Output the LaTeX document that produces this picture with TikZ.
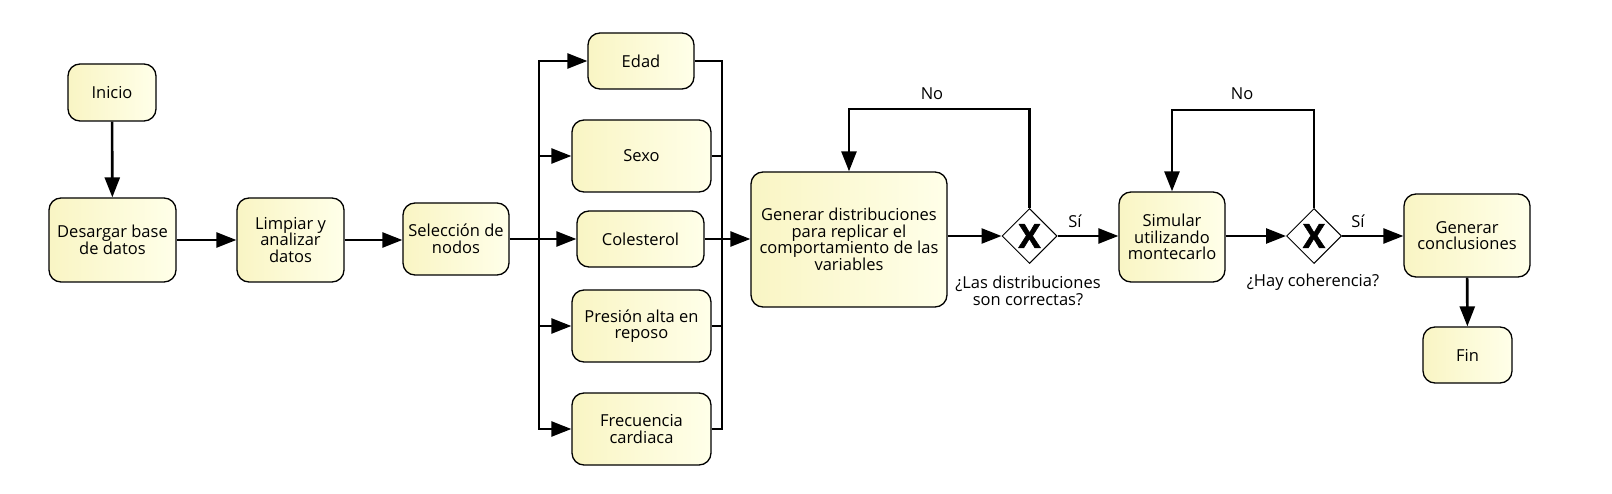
\documentclass[tikz,border=0pt]{standalone}
\usepackage{fontspec}
\setmainfont{Open Sans}
\newfontfamily\xfont[FakeBold=1.6]{Open Sans}
\usetikzlibrary{arrows.meta,shapes.geometric}
\definecolor{boxA}{HTML}{F9F5C4}
\definecolor{boxB}{HTML}{FFFFE9}
\tikzset{
  task/.style={draw=black, line width=1.3pt, rounded corners=12pt, left color=boxA, right color=boxB,
    inner sep=2pt, align=center, font=\fontsize{16.5}{16.5}\selectfont, text=black},
  gate/.style={draw=black, line width=1pt, diamond, aspect=1, fill=white, minimum width=55pt, minimum height=55pt, inner sep=0pt},
  gx/.style={font=\xfont\fontsize{33}{33}\selectfont\bfseries, inner sep=0pt},
  flow/.style={line width=2.6pt, -{Triangle[length=20pt,width=15pt]}},
  plain/.style={line width=2.6pt},
  lbl/.style={font=\fontsize{16.5}{17}\selectfont, align=center, inner sep=0pt}
}
\begin{document}
\begin{tikzpicture}[x=1pt,y=-1pt]
\useasboundingbox (0,0) rectangle (1612,494);
% nodes
\node[task, minimum width=88pt, minimum height=57pt] (inicio) at (112,92.5) {Inicio};
\node[task, minimum width=127pt, minimum height=84pt] (desc) at (112.5,240) {Desargar base\\de datos};
\node[task, minimum width=107pt, minimum height=84pt] (limp) at (290.5,240) {Limpiar y\\analizar\\datos};
\node[task, minimum width=106pt, minimum height=72pt] (sel) at (456,239) {Selección de\\nodos};
\node[task, minimum width=106pt, minimum height=56pt] (edad) at (641,61) {Edad};
\node[task, minimum width=139pt, minimum height=72pt] (sexo) at (641.5,156) {Sexo};
\node[task, minimum width=127pt, minimum height=56pt] (cole) at (640.5,239) {Colesterol};
\node[task, minimum width=139pt, minimum height=72pt] (pres) at (641.5,326) {Presión alta en\\reposo};
\node[task, minimum width=139pt, minimum height=72pt] (frec) at (641.5,429) {Frecuencia\\cardiaca};
\node[task, minimum width=196pt, minimum height=135pt] (gen) at (849,239.5) {Generar distribuciones\\para replicar el\\comportamiento de las\\variables};
\node[gate] (d1) at (1029.5,236) {};
\node[gx] (x1) at (d1) {X};
\node[task, minimum width=106pt, minimum height=90pt] (sim) at (1172,237) {Simular\\utilizando\\montecarlo};
\node[gate] (d2) at (1314,236) {};
\node[gx] (x2) at (d2) {X};
\node[task, minimum width=126pt, minimum height=83pt] (conc) at (1467,235.5) {Generar\\conclusiones};
\node[task, minimum width=89pt, minimum height=56pt] (fin) at (1467.5,355) {Fin};
% labels
\node[lbl] (no1) at (932,94) {No};
\node[lbl] (no2) at (1242,94) {No};
\node[lbl] (si1) at (1075,221) {Sí};
\node[lbl] (si2) at (1358,221) {Sí};
\node[lbl] (q1) at (1028,291) {¿Las distribuciones\\son correctas?};
\node[lbl] (q2) at (1313,282) {¿Hay coherencia?};
% bus coordinates
\coordinate (busL) at (539,239);
\coordinate (busR) at (722,239);
\coordinate (loop1) at (1029.5,109);
\coordinate (loop2) at (1314,110);
% connectors
\draw[flow] (inicio) -- (desc);
\draw[flow] (desc.east |- 0,240) -- (limp.west |- 0,240);
\draw[flow] (limp.east |- 0,240) -- (sel.west |- 0,240);
\draw[plain] (sel.east) -- (busL);
\draw[flow] (busL) |- (edad.west);
\draw[flow] (busL) |- (sexo.west);
\draw[flow] (busL) -- (cole.west);
\draw[flow] (busL) |- (pres.west);
\draw[flow] (busL) |- (frec.west);
\draw[plain] (edad.east) -| (busR);
\draw[plain] (sexo.east) -| (busR);
\draw[plain] (cole.east) -- (busR);
\draw[plain] (pres.east) -| (busR);
\draw[plain] (frec.east) -| (busR);
\draw[flow] (busR) -- (gen.west |- busR);
\draw[flow] (gen.east |- d1) -- (d1.west);
\draw[flow] (d1.north) -- (loop1) -| (gen.north);
\draw[flow] (d1.east) -- (sim.west |- d1);
\draw[flow] (sim.east |- d2) -- (d2.west);
\draw[flow] (d2.north) -- (loop2) -| (sim.north);
\draw[flow] (d2.east) -- (conc.west |- d2);
\draw[flow] (conc) -- (fin);
\end{tikzpicture}
\end{document}
